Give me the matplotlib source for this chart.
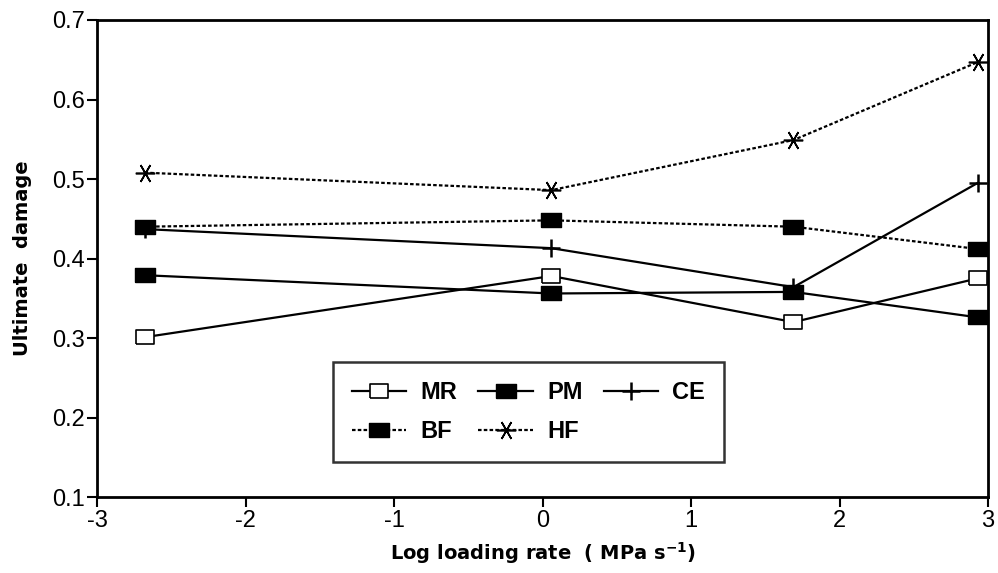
import matplotlib
matplotlib.use("Agg")
import matplotlib.pyplot as plt

# log loading rate (MPa s^-1) for the four test series
log_rate = [-2.68, 0.06, 1.69, 2.93]

mr = [0.301, 0.378, 0.320, 0.375]
pm = [0.379, 0.356, 0.358, 0.326]
ce = [0.437, 0.413, 0.364, 0.495]
bf = [0.440, 0.448, 0.440, 0.412]
hf = [0.508, 0.486, 0.549, 0.647]

xticks = [-3, -2, -1, 0, 1, 2, 3]
yticks = [0.1, 0.2, 0.3, 0.4, 0.5, 0.6, 0.7]

# slightly wide rectangle used for the square markers
rect = [(-1.3, -1), (1.3, -1), (1.3, 1), (-1.3, 1), (-1.3, -1)]

fig = plt.figure(figsize=(9.98, 5.73), dpi=100)
ax = fig.add_axes([0.0972, 0.1326, 0.8928, 0.8325])

dot = (0, (1.6, 1.0))
l_mr, = ax.plot(log_rate, mr, '-', color='black', lw=1.6, marker=rect, ms=13,
                mfc='white', mec='black', mew=1.2)
l_pm, = ax.plot(log_rate, pm, '-', color='black', lw=1.6, marker=rect, ms=14,
                mfc='black', mec='black')
l_ce, = ax.plot(log_rate, ce, '-', color='black', lw=1.6, marker='+', ms=13, mew=1.8)
l_bf, = ax.plot(log_rate, bf, linestyle=dot, color='black', lw=1.6, marker=rect, ms=14,
                mfc='black', mec='black')
l_hf, = ax.plot(log_rate, hf, linestyle=dot, color='black', lw=1.6, marker=(6, 2, 90),
                ms=14, mew=1.2)

ax.set_xlim(-3, 3)
ax.set_ylim(0.1, 0.7)
ax.set_xticks(xticks)
ax.set_yticks(yticks)
ax.set_xticklabels([str(v) for v in xticks], fontsize=17, family='Liberation Sans')
ax.set_yticklabels([f"{v:.1f}" for v in yticks], fontsize=17, family='Liberation Sans')
ax.tick_params(direction='out', length=7, width=1.5, pad=2)
for s in ax.spines.values():
    s.set_linewidth(2)

ax.set_xlabel(r"Log loading rate  ( MPa s$^{\mathbf{-1}}$)", fontsize=14,
              fontweight='bold', labelpad=6)
ax.set_ylabel("Ultimate  damage", fontsize=14, fontweight='bold', labelpad=14)

leg = ax.legend([l_mr, l_bf, l_pm, l_hf, l_ce], ["MR", "BF", "PM", "HF", "CE"],
                ncol=3, loc='lower left', bbox_to_anchor=(0.265, 0.073),
                fancybox=False, edgecolor='black', handlelength=2.3,
                prop={'family': 'Liberation Sans', 'weight': 'bold', 'size': 17},
                borderpad=0.8, labelspacing=0.7, columnspacing=0.9, handletextpad=0.6,
                borderaxespad=0)
leg.get_frame().set_linewidth(1.8)

fig.savefig("out.png", dpi=100)
